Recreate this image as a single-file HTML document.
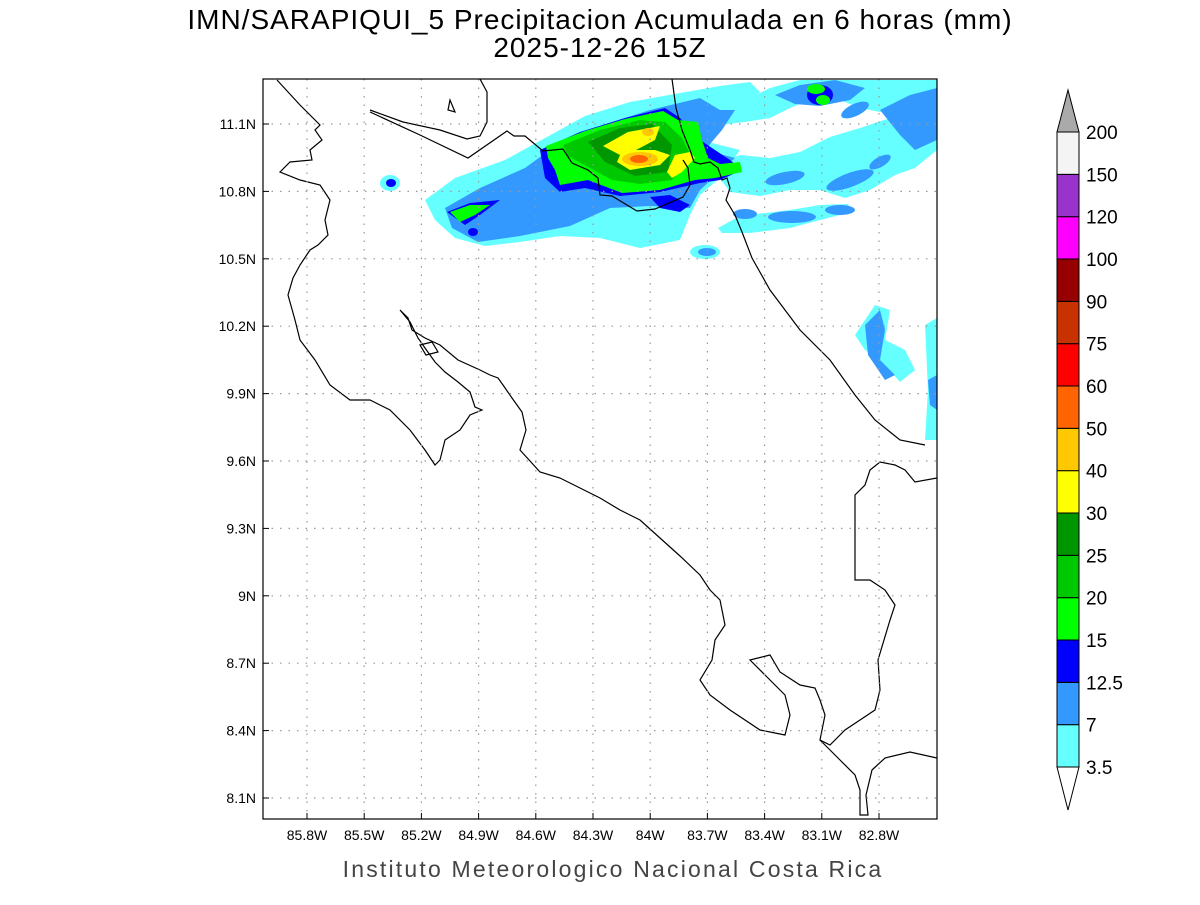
<!DOCTYPE html>
<html><head><meta charset="utf-8"><style>
body{margin:0;background:#fff;width:1200px;height:900px;overflow:hidden;font-family:"Liberation Sans",sans-serif}
svg text{font-family:"Liberation Sans",sans-serif}
</style></head><body>
<svg id="chart" width="1200" height="900" viewBox="0 0 1200 900" xmlns="http://www.w3.org/2000/svg">
<text x="600" y="29" text-anchor="middle" font-size="28" fill="#000" letter-spacing="1">IMN/SARAPIQUI_5 Precipitacion Acumulada en 6 horas (mm)</text>
<text x="600" y="57" text-anchor="middle" font-size="28" fill="#000" letter-spacing="1">2025-12-26 15Z</text>
<defs><clipPath id="frame"><rect x="263" y="79" width="674" height="740"/></clipPath></defs>
<g clip-path="url(#frame)">
<g fill="#66ffff">
<path d="M425,200 L455,178 L505,160 L545,138 L585,116 L630,102 L680,93 L720,86 L750,82 L760,92 L740,108 L720,125 L700,140 L740,150 L720,178 L700,195 L690,215 L680,240 L640,248 L600,238 L560,236 L520,242 L485,246 L455,238 L435,220 Z"/>
<path d="M700,112 L745,100 L770,88 L800,80 L937,80 L937,96 L905,102 L880,112 L860,108 L835,98 L810,100 L790,108 L770,118 L745,122 L720,125 Z"/>
<path d="M710,165 L740,155 L770,158 L800,152 L830,137 L860,128 L890,118 L915,100 L937,92 L937,150 L915,168 L895,175 L870,190 L845,198 L820,190 L790,190 L760,196 L730,192 Z"/>
<path d="M718,228 L740,216 L790,210 L820,205 L848,204 L852,212 L820,220 L790,228 L750,233 L722,233 Z"/>
<ellipse cx="390" cy="183" rx="10" ry="8"/>
<ellipse cx="705" cy="252" rx="15" ry="7"/>
<path d="M855,335 L875,305 L890,310 L885,340 L905,350 L915,370 L900,382 L885,365 L865,350 Z"/>
<path d="M925,325 L937,318 L937,440 L925,440 L928,390 Z"/>
</g>
<g fill="#3399ff">
<path d="M445,208 L480,188 L525,168 L555,146 L600,126 L650,110 L700,98 L720,110 L735,110 L722,130 L705,150 L735,158 L720,172 L700,190 L690,208 L650,206 L610,208 L570,226 L520,236 L478,242 L452,228 Z"/>
<path d="M775,95 L800,85 L835,80 L865,88 L850,100 L820,106 L795,104 Z"/>
<path d="M880,110 L910,95 L937,88 L937,140 L915,150 L900,135 Z"/>
<ellipse cx="785" cy="178" rx="20" ry="6" transform="rotate(-12 785 178)"/>
<ellipse cx="850" cy="180" rx="25" ry="7" transform="rotate(-20 850 180)"/>
<ellipse cx="880" cy="162" rx="12" ry="5" transform="rotate(-30 880 162)"/>
<ellipse cx="855" cy="110" rx="15" ry="6" transform="rotate(-25 855 110)"/>
<ellipse cx="745" cy="214" rx="12" ry="5"/>
<ellipse cx="792" cy="217" rx="24" ry="6"/>
<ellipse cx="840" cy="210" rx="15" ry="5"/>
<path d="M865,325 L880,310 L885,330 L880,360 L895,375 L885,380 L868,355 Z"/>
<path d="M928,380 L937,375 L937,410 L930,405 Z"/>
<ellipse cx="707" cy="252" rx="9" ry="4"/>
</g>
<g fill="#0000ff">
<path d="M540,150 L580,132 L625,118 L665,108 L680,118 L700,140 L730,160 L742,170 L720,180 L700,183 L660,192 L620,196 L585,188 L560,192 L545,178 Z"/>
<path d="M447,212 L470,203 L500,200 L480,215 L465,225 Z"/>
<ellipse cx="473" cy="232" rx="5" ry="4"/>
<path d="M650,197 L670,195 L690,205 L680,212 L660,208 Z"/>
<ellipse cx="820" cy="95" rx="13" ry="10"/>
<ellipse cx="391" cy="183" rx="5" ry="4"/>
</g>
<g fill="#00ff00">
<path d="M546,146 L585,131 L625,119 L663,111 L678,120 L698,122 L702,140 L708,158 L720,164 L740,162 L742,172 L715,178 L695,180 L660,190 L622,193 L588,180 L560,185 L555,170 L548,158 Z"/>
<path d="M450,212 L470,205 L490,205 L475,215 L460,222 Z"/>
<ellipse cx="816" cy="89" rx="9" ry="5"/>
<ellipse cx="823" cy="100" rx="7" ry="5"/>
</g>
<g fill="#00c800">
<path d="M563,145 L600,130 L640,120 L665,122 L682,138 L692,158 L672,180 L640,184 L612,180 L590,168 L568,156 Z"/>
</g>
<g fill="#009600">
<path d="M588,142 L620,128 L652,124 L672,145 L668,172 L635,176 L605,162 Z"/>
</g>
<g fill="#ffff00">
<path d="M603,146 L628,132 L660,126 L655,140 L636,150 L655,150 L670,155 L660,165 L630,170 L617,162 L620,155 Z"/>
<path d="M667,172 L675,155 L690,152 L695,158 L682,172 L672,178 Z"/>
</g>
<g fill="#ffc800">
<ellipse cx="640" cy="159" rx="18" ry="7"/>
<ellipse cx="648" cy="132" rx="6" ry="4"/>
</g>
<g fill="#ff6400">
<ellipse cx="639" cy="159" rx="9" ry="4"/>
</g>
</g>
<g fill="none" stroke="#000" stroke-width="1.2" clip-path="url(#frame)">
<path d="M277,80 L300,105 L320,125 L315,130 L322,140 L310,150 L312,160 L290,162 L280,172 L300,180 L320,185 L330,200 L325,220 L328,235 L318,245 L310,250 L300,265 L293,278 L288,295 L295,320 L300,340 L315,360 L330,385 L350,400 L370,400 L390,410 L410,430 L425,450 L435,465 L440,460 L445,440 L460,430 L470,415 L482,410 L475,407 L470,392 L458,382 L445,372 L435,362 L425,348 L418,338 L410,322 L400,310 L408,318 L412,330 L425,338 L440,345 L458,360 L480,370 L490,375 L498,378 L503,385 L512,398 L522,412 L526,430 L520,450 L540,472 L560,478 L580,488 L600,498 L620,510 L640,520 L660,538 L680,556 L700,575 L710,590 L720,600 L725,625 L715,640 L712,660 L700,680 L710,695 L730,710 L760,730 L785,735 L790,715 L785,695 L770,680 L750,660 L770,655 L780,672 L800,685 L815,688 L820,700 L825,715 L820,740 L830,745 L845,730 L860,720 L875,710 L880,690 L878,660 L890,620 L895,605 L885,590 L870,580 L855,580 L855,495 L865,485 L870,470 L880,462 L895,465 L905,470 L915,482 L937,478"/>
<path d="M820,740 L840,760 L855,775 L860,790 L860,815 L868,815 L866,795 L872,770 L885,758 L910,752 L937,758"/>
<path d="M370,110 L403,122 L440,130 L467,139 L480,136 L487,122 L487,92 L480,79"/>
<path d="M370,112 L420,135 L468,158 L507,131 L514,136 L525,136 L543,151 L563,149 L572,163 L588,170 L598,178 L600,195 L612,196 L637,211 L655,209 L683,197 L690,185 L688,168 L683,160"/>
<path d="M672,79 L676,108 L682,130 L690,150 L694,162 L700,164 L710,162 L718,168 L722,180 L727,178 L730,188 L726,200 L735,215 L742,232 L752,258 L770,290 L800,330 L830,360 L855,395 L875,420 L900,440 L925,445"/>
<path d="M450,100 L455,112 L448,110 Z"/>
<path d="M420,345 L432,342 L438,352 L426,355 Z"/>
</g>
<g id="grid"></g>
<rect x="263" y="79" width="674" height="740" fill="none" stroke="#000" stroke-width="1.2"/>
<g id="axes"></g>
<g id="cbar"></g>
<text x="613" y="877" text-anchor="middle" font-size="23" fill="#444" letter-spacing="2.2">Instituto Meteorologico Nacional Costa Rica</text>
</svg>
<script>
const lonTicks=[-85.8,-85.5,-85.2,-84.9,-84.6,-84.3,-84.0,-83.7,-83.4,-83.1,-82.8];
const lonLabels=["85.8W","85.5W","85.2W","84.9W","84.6W","84.3W","84W","83.7W","83.4W","83.1W","82.8W"];
const latTicks=[11.1,10.8,10.5,10.2,9.9,9.6,9.3,9.0,8.7,8.4,8.1];
const latLabels=["11.1N","10.8N","10.5N","10.2N","9.9N","9.6N","9.3N","9N","8.7N","8.4N","8.1N"];
const levels=["3.5","7","12.5","15","20","25","30","40","50","60","75","90","100","120","150","200"];
const levelColors=["#66ffff","#3399ff","#0000ff","#00ff00","#00c800","#009600","#ffff00","#ffc800","#ff6400","#ff0000","#c83200","#960000","#ff00ff","#9933cc","#f4f4f4"];
const NS="http://www.w3.org/2000/svg";
function xOf(lon){return 307+(lon+85.8)*(572/3.0);}
function yOf(lat){return 124+(11.1-lat)*(674/3.0);}
function el(t,a,p){const e=document.createElementNS(NS,t);for(const k in a)e.setAttribute(k,a[k]);p.appendChild(e);return e;}
const grid=document.getElementById('grid'),axes=document.getElementById('axes'),cb=document.getElementById('cbar');
lonTicks.forEach((v,i)=>{const x=xOf(v);
 const g=el('line',{x1:x,x2:x,y1:79,y2:819,stroke:'#999','stroke-dasharray':'1.5,7','stroke-width':1.2},grid);
 
 
 const t=el('line',{x1:x,x2:x,y1:819,y2:813,stroke:'#000'},axes);
 
 
 const l=el('text',{x:x,y:840,'text-anchor':'middle','font-size':14},axes);l.textContent=lonLabels[i];
 
 
});
latTicks.forEach((v,i)=>{const y=yOf(v);
 const g=el('line',{x1:263,x2:937,y1:y,y2:y,stroke:'#999','stroke-dasharray':'1.5,7','stroke-width':1.2},grid);
 
 
 const t=el('line',{x1:263,x2:269,y1:y,y2:y,stroke:'#000'},axes);
 
 
 const l=el('text',{x:256,y:y+5,'text-anchor':'end','font-size':14},axes);l.textContent=latLabels[i];
 
 
});
const cx0=1057,cx1=1079,yBot=767,step=(767-132)/15;
function yLev(i){return yBot-i*step;}
const bt=el('polygon',{points:`${cx0},${yBot} ${cx1},${yBot} ${(cx0+cx1)/2},810`,fill:'#fff',stroke:'#000'},cb);


levelColors.forEach((c,i)=>{
 const r=el('rect',{x:cx0,y:yLev(i+1),width:cx1-cx0,height:step,fill:c,stroke:'#000','stroke-width':1},cb);
 
 
});
const tt=el('polygon',{points:`${cx0},${yLev(15)} ${cx1},${yLev(15)} ${(cx0+cx1)/2},90`,fill:'#aaaaaa',stroke:'#000'},cb);


levels.forEach((s,i)=>{
 const l=el('text',{x:1086,y:yLev(i)+7,'font-size':19},cb);l.textContent=s;
 
 
});
</script>
</body></html>
